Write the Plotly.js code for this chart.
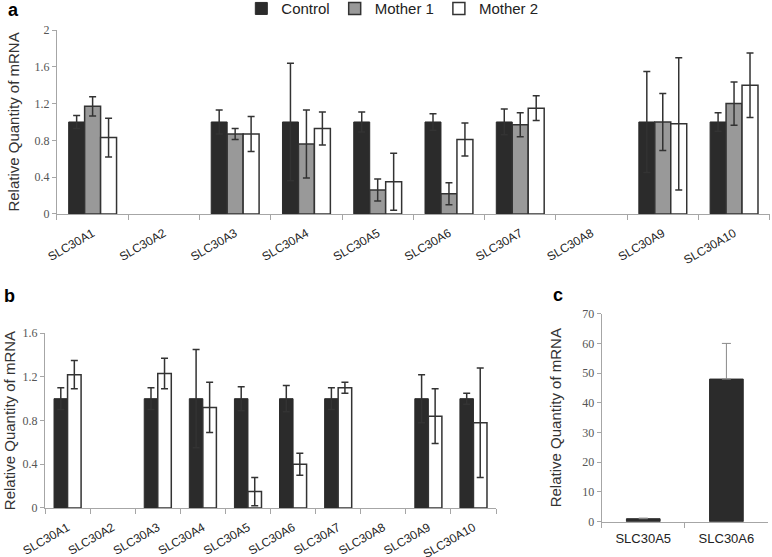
<!DOCTYPE html>
<html>
<head>
<meta charset="utf-8">
<script src="https://cdn.plot.ly/plotly-3.0.1.min.js"></script>
<style>html,body{margin:0;padding:0;background:#fff;}#chart{width:772px;height:557px;}</style>
</head>
<body>
<div id="chart"></div>
<script>
// ---------- DATA ----------
const categories = ['SLC30A1','SLC30A2','SLC30A3','SLC30A4','SLC30A5','SLC30A6','SLC30A7','SLC30A8','SLC30A9','SLC30A10'];

// Panel a
const aControl    = [1.00, null, 1.00, 1.00, 1.00, 1.00, 1.00, null, 1.00, 1.00];
const aControlErr = [0.07, null, 0.13, 0.64, 0.11, 0.09, 0.14, null, 0.55, 0.10];
const aMother1    = [1.17, null, 0.87, 0.76, 0.26, 0.22, 0.97, null, 1.00, 1.20];
const aMother1Err = [0.105, null, 0.06, 0.37, 0.12, 0.12, 0.13, null, 0.31, 0.235];
const aMother2    = [0.83, null, 0.87, 0.93, 0.35, 0.81, 1.15, null, 0.98, 1.40];
const aMother2Err = [0.21, null, 0.19, 0.18, 0.31, 0.18, 0.135, null, 0.72, 0.35];

// Panel b
const bControl    = [1.00, null, 1.00, 1.00, 1.00, 1.00, 1.00, null, 1.00, 1.00];
const bControlErr = [0.10, null, 0.10, 0.45, 0.11, 0.12, 0.10, null, 0.22, 0.05];
const bMother     = [1.22, null, 1.23, 0.92, 0.15, 0.40, 1.10, null, 0.84, 0.78];
const bMotherErr  = [0.13, null, 0.14, 0.23, 0.13, 0.10, 0.05, null, 0.25, 0.50];

// Panel c
const cCategories = ['SLC30A5','SLC30A6'];
const cValues     = [1.0, 48.0];
const cErr        = [0.2, 12.0];

// ---------- STYLE ----------
const DARK = '#2b2b2b', EDGE = '#333333', GREY = '#999999';
const AXIS = '#a6a6a6';
const sans = 'Liberation Sans, Arial, sans-serif';
const serif = 'Liberation Serif, Times New Roman, serif';

function err(arr, color, thick, w, upOnly) {
  const e = {type:'data', array:arr, visible:true, color:color, thickness:thick, width:w};
  if (upOnly) { e.symmetric = false; e.arrayminus = arr.map(v => v == null ? null : 0); }
  return e;
}

const data = [
  // panel a
  {type:'bar', name:'Control', x:categories, y:aControl, xaxis:'x', yaxis:'y',
   width:0.224, offset:-0.336, marker:{color:DARK, line:{color:DARK, width:1}},
   error_y:err(aControlErr, EDGE, 1.5, 3.5)},
  {type:'bar', name:'Mother 1', x:categories, y:aMother1, xaxis:'x', yaxis:'y',
   width:0.224, offset:-0.112, marker:{color:GREY, line:{color:EDGE, width:1.5}},
   error_y:err(aMother1Err, EDGE, 1.5, 3.5)},
  {type:'bar', name:'Mother 2', x:categories, y:aMother2, xaxis:'x', yaxis:'y',
   width:0.224, offset:0.112, marker:{color:'#ffffff', line:{color:EDGE, width:1.5}},
   error_y:err(aMother2Err, EDGE, 1.5, 3.5)},
  // panel b
  {type:'bar', name:'Control', x:categories, y:bControl, xaxis:'x2', yaxis:'y2', showlegend:false,
   width:0.3, offset:-0.3, marker:{color:DARK, line:{color:DARK, width:1}},
   error_y:err(bControlErr, EDGE, 1.5, 3.5)},
  {type:'bar', name:'Mother', x:categories, y:bMother, xaxis:'x2', yaxis:'y2', showlegend:false,
   width:0.3, offset:0, marker:{color:'#ffffff', line:{color:EDGE, width:1.5}},
   error_y:err(bMotherErr, EDGE, 1.5, 3.5)},
  // panel c
  {type:'bar', name:'Mother', x:cCategories, y:cValues, xaxis:'x3', yaxis:'y3', showlegend:false,
   width:0.405, marker:{color:DARK, line:{color:DARK, width:1}},
   error_y:err(cErr, '#8a8a8a', 1, 4.5, true)}
];

const xCommon = {type:'category', showline:true, linecolor:AXIS, linewidth:1, ticks:'outside',
  tickson:'boundaries', ticklen:5, tickcolor:AXIS, showgrid:false, zeroline:false, automargin:false,
  tickfont:{family:sans, size:12, color:'#222'}, fixedrange:true};
const yCommon = {showline:true, linecolor:AXIS, linewidth:1, ticks:'outside', ticklen:4, tickcolor:AXIS,
  showgrid:false, zeroline:false, automargin:false, tickfont:{family:serif, size:12, color:'#555'}, fixedrange:true};
const ytitle = (s) => ({text:'Relative Quantity of mRNA', font:{family:sans, size:15, color:'#333'}, standoff:s});

const layout = {
  width:772, height:557,
  margin:{l:0, r:0, t:0, b:0, autoexpand:false},
  paper_bgcolor:'#fff', plot_bgcolor:'#fff',
  barmode:'overlay',
  showlegend:true,
  legend:{orientation:'h', x:0.3126, xanchor:'left', y:1.014, yanchor:'top',
    font:{family:sans, size:15, color:'#222'}, bgcolor:'rgba(0,0,0,0)', itemwidth:30},
  xaxis: Object.assign({}, xCommon, {domain:[0.0738, 0.997], range:[-0.5, 9.5], anchor:'y', tickangle:-30, ticklabelposition:'outside', ticklabelstandoff:7}),
  yaxis: Object.assign({}, yCommon, {domain:[0.616, 0.946], range:[0, 2], dtick:0.4, tick0:0, anchor:'x', title:ytitle(11)}),
  xaxis2: Object.assign({}, xCommon, {domain:[0.0583, 0.6425], range:[-0.5, 9.5], anchor:'y2', tickangle:-30, ticklabelposition:'outside', ticklabelstandoff:7}),
  yaxis2: Object.assign({}, yCommon, {domain:[0.088, 0.402], range:[0, 1.6], dtick:0.4, tick0:0, anchor:'x2', title:ytitle(3)}),
  xaxis3: Object.assign({}, xCommon, {domain:[0.7794, 0.9948], range:[-0.5, 1.5], anchor:'y3', tickangle:0, ticklabelstandoff:5,
    tickfont:{family:sans, size:13, color:'#222'}}),
  yaxis3: Object.assign({}, yCommon, {domain:[0.0634, 0.4368], range:[0, 70], dtick:10, tick0:0, anchor:'x3', title:ytitle(17)}),
  annotations:[
    {text:'<b>a</b>', xref:'paper', yref:'paper', x:13/772, y:1-10/557, showarrow:false, xanchor:'center', yanchor:'middle', font:{family:sans, size:18, color:'#000'}},
    {text:'<b>b</b>', xref:'paper', yref:'paper', x:9/772, y:1-296/557, showarrow:false, xanchor:'center', yanchor:'middle', font:{family:sans, size:18, color:'#000'}},
    {text:'<b>c</b>', xref:'paper', yref:'paper', x:558/772, y:1-295/557, showarrow:false, xanchor:'center', yanchor:'middle', font:{family:sans, size:18, color:'#000'}}
  ]
};

Plotly.newPlot('chart', data, layout, {displayModeBar:false, staticPlot:true});
</script>
</body>
</html>
